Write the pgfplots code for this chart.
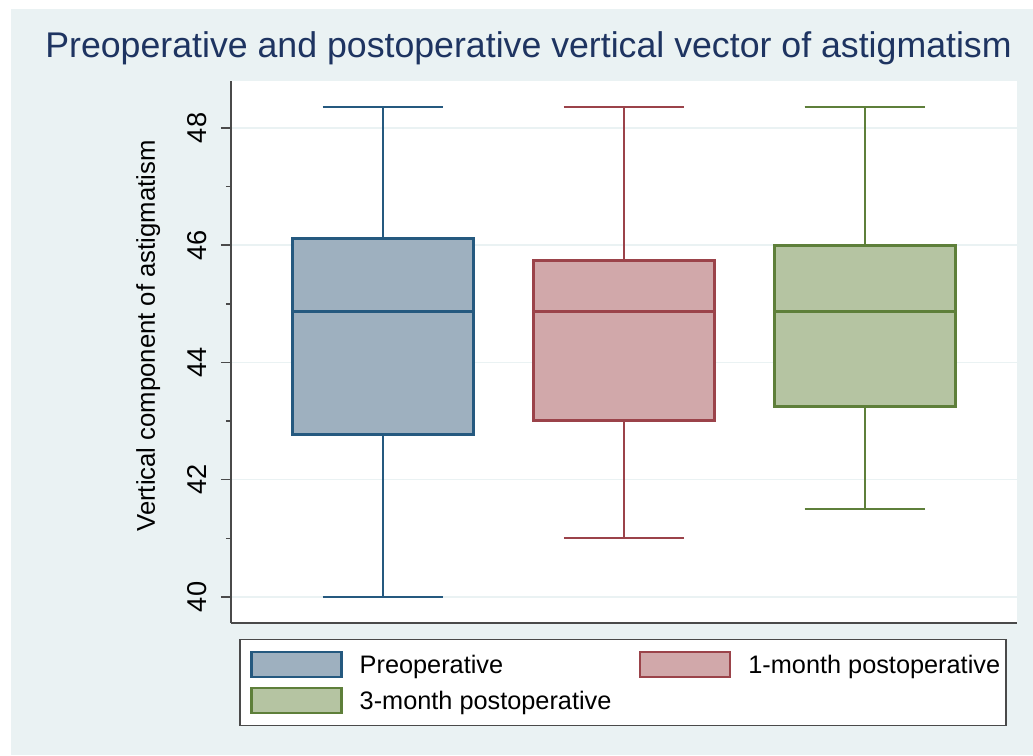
\documentclass[border=0pt]{standalone}
\usepackage{fontspec}
\setmainfont{Liberation Sans}
\usepackage{pgfplots}
\pgfplotsset{compat=1.18}
\usepgfplotslibrary{statistics}
\definecolor{bgc}{HTML}{EAF2F3}
\definecolor{gridc}{HTML}{EAF2F3}
\definecolor{titlec}{HTML}{1E3461}
\definecolor{blueL}{HTML}{25597F}
\definecolor{blueF}{HTML}{9EB0BF}
\definecolor{redL}{HTML}{9B434A}
\definecolor{redF}{HTML}{D1A8AA}
\definecolor{greenL}{HTML}{5E7F3A}
\definecolor{greenF}{HTML}{B5C4A2}
\definecolor{axc}{HTML}{4A4A4A}
\pgfplotsset{boxleg/.style={legend image code/.code={\path (-2.5pt,0pt); \draw[##1, line width=1.2pt] (0pt,-6.25pt) rectangle (45pt,6.25pt);}}}
\begin{document}
\begin{tikzpicture}
\path[use as bounding box, fill=white] (0,0) rectangle (516.5pt,377.5pt);
\fill[bgc] (5.5pt,0) rectangle (516.5pt,373pt);
\begin{axis}[
  at={(115.5pt,66pt)}, anchor=south west,
  scale only axis, width=393pt, height=271pt,
  xmin=0.369, xmax=3.631, ymin=39.556, ymax=48.8,
  axis background/.style={fill=white},
  axis x line*=bottom, axis y line*=left,
  axis line style={-, line width=0.75pt, color=axc},
  xtick=\empty,
  ytick={40,42,44,46,48},
  minor ytick={41,43,45,47},
  tick align=outside,
  major tick length=5pt, minor tick length=2.5pt,
  tick style={line width=0.75pt, color=axc},
  ymajorgrids, major grid style={line width=0.75pt, color=gridc},
  /pgf/number format/assume math mode=true,
  yticklabel style={rotate=90, anchor=south, inner xsep=0pt, inner ysep=6.8pt, font=\fontsize{13.6pt}{15pt}\selectfont},
  title={Preoperative and postoperative vertical vector of astigmatism},
  title style={at={(axis description cs:0.3785,1.0203)}, anchor=base, font=\fontsize{17.85pt}{20pt}\selectfont, color=titlec, inner sep=0pt},
  ylabel={Vertical component of astigmatism},
  ylabel style={at={(axis description cs:-0.0967,0.5295)}, anchor=base, inner sep=0pt, font=\fontsize{12.85pt}{14pt}\selectfont},
  boxplot/draw direction=y,
  boxplot/every box/.append style={line width=1.4pt},
  boxplot/every whisker/.append style={line width=1pt},
  boxplot/every median/.append style={line width=1.4pt},
  legend columns=2,
  legend cell align=left,
  legend style={at={(axis description cs:0.0102,-0.0295)}, anchor=north west, draw=axc, line width=0.75pt, fill=white, inner xsep=3pt, inner ysep=3.5pt, font=\fontsize{12.65pt}{14pt}\selectfont, nodes={inner xsep=0pt, inner ysep=4.4pt, text height=9.1pt, text depth=0pt}, /tikz/every odd column/.append style={column sep=8.5pt}, /tikz/column 2/.append style={column sep=11.5pt}},
]
\addplot[draw=blueL, fill=blueF, boxplot prepared={draw position=1, lower whisker=40, lower quartile=42.77, median=44.87, upper quartile=46.12, upper whisker=48.36, box extend=0.75, whisker extend=0.5}, boxleg] coordinates {};
\addlegendentry{Preoperative}
\addplot[draw=redL, fill=redF, boxplot prepared={draw position=2, lower whisker=41.0, lower quartile=43.01, median=44.87, upper quartile=45.74, upper whisker=48.36, box extend=0.75, whisker extend=0.5}, boxleg] coordinates {};
\addlegendentry{1-month postoperative}
\addplot[draw=greenL, fill=greenF, boxplot prepared={draw position=3, lower whisker=41.5, lower quartile=43.25, median=44.87, upper quartile=46.0, upper whisker=48.36, box extend=0.75, whisker extend=0.5}, boxleg] coordinates {};
\addlegendentry{3-month postoperative}
\end{axis}
\end{tikzpicture}
\end{document}
